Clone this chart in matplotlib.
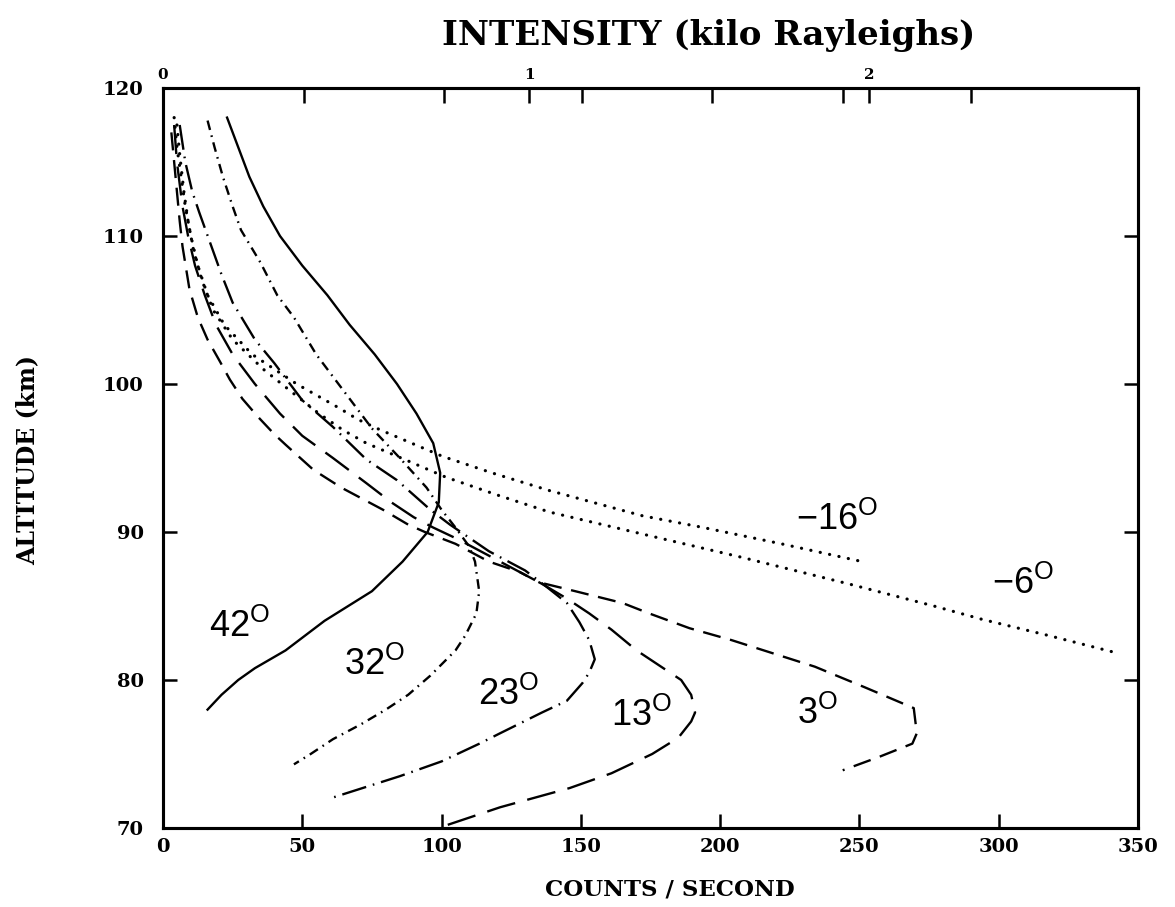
import matplotlib
matplotlib.use("Agg")
import matplotlib.pyplot as plt

# ---- data: altitude (km) vs count rate (counts / second) for each solar angle ----
alt_42 = [118, 116, 114, 112, 110, 108, 106, 104, 102, 100, 98, 96, 94, 92, 90,
          88, 86, 84, 82, 80.8, 80, 79, 78]
cnt_42 = [23, 27, 31, 36, 42, 50, 59, 67, 76, 84, 91, 97, 99.5, 99, 95,
          86, 75, 58, 44, 33, 27, 21, 16]

alt_32 = [117.8, 116, 114, 112, 110.4, 108.2, 106, 104.5, 102, 100, 98, 97, 95, 93,
          91.5, 90.3, 89, 88, 86, 84.5, 83, 82, 80.3, 79, 78, 77, 76, 75, 74.3]
cnt_32 = [16, 18.5, 21.5, 25, 28, 35, 41, 47, 55, 63, 71, 75, 85, 94.6,
          100, 105, 110, 112, 113.5, 112.5, 108.5, 105, 96, 88, 80, 71, 61, 53, 47]

alt_23 = [117.5, 115, 113, 111.6, 109.5, 107.4, 105.5, 103, 101.4, 98.9, 97.1, 94.9,
          93.5, 91.5, 90.5, 89.6, 88.7, 87.4, 86.4, 85.2, 83.9, 82.7, 81.4, 80.5,
          79.8, 78.6, 77.8, 76.4, 75.7, 74.5, 73.5, 72]
cnt_23 = [6, 8, 10.5, 13, 17, 21, 25, 33, 40, 50, 61, 73,
          84, 96, 103, 110, 117, 130, 137, 145, 149.5, 153, 155, 153,
          150.6, 145, 136, 121, 113.6, 100, 85, 60]

alt_13 = [117.5, 115, 112, 110, 108, 106, 104, 102, 100, 98, 96.5, 95, 93.3, 92,
          91, 90.3, 89.5, 88.5, 87.5, 86.5, 85.5, 84.5, 83.4, 82, 81, 80, 79,
          77.8, 77.2, 76.1, 75, 73.7, 72.7, 71.4, 70.1]
cnt_13 = [4, 5, 7, 9, 11.5, 15, 19, 25, 33, 42, 50, 61, 73, 82,
          90, 97, 106, 116, 126, 136, 145, 153, 161, 170, 178, 186, 189.6,
          191, 189.6, 185, 175.6, 161, 146, 121, 100.4]

alt_3 = [117, 115, 113, 111, 109.3, 106.4, 104.5, 103, 101.5, 100.3, 99, 97.8, 96.6,
         95.9, 94.2, 93, 91.5, 90.5, 90, 89.2, 88, 87.3, 86.6, 86, 85.2, 84.5, 83.5,
         82.7, 81.8, 80.9, 80.2, 79.5, 78.1, 76.4, 75.7, 74.8, 73.9]
cnt_3 = [3, 4, 5, 6, 7, 9.5, 12.5, 16, 20.5, 24, 28.5, 34, 40,
         44, 54, 64, 79, 88, 94, 105, 117, 128, 135, 148, 165, 174.5, 189,
         204, 219, 234, 243, 252, 269.5, 270.6, 269, 257, 244]

alt_m16 = [118, 116, 114, 112, 110, 108, 106, 104, 102, 100, 98.4, 97.6, 96.9, 95.7,
           95.1, 94, 92.8, 91.1, 90.3, 89.2, 88]
cnt_m16 = [4, 5, 6.5, 8, 10, 12.5, 16, 22, 32, 48, 63, 70, 78, 93,
           100.5, 118, 138.7, 172, 194, 222, 251]

alt_m6 = [117.5, 115.5, 113, 111, 109, 107, 105, 103, 101, 99.4, 98, 96.9, 96, 94.8,
          93.7, 92.5, 91.35, 89.8, 88.3, 86.5, 85.0, 84.1, 83.0, 81.8]
cnt_m6 = [5, 6, 7.5, 9, 11, 14, 18, 25, 36, 46.6, 56, 64.5, 73, 88,
          101.6, 120, 138.7, 173.5, 207.5, 246, 276.7, 294, 318, 343]

# curve labels: text, counts, altitude
label_text = ["42", "32", "23", "13", "3", "\u221216", "\u22126"]
label_cnt = [27.6, 76, 124, 171.7, 235, 242, 308.6]
label_alt = [83.6, 81.0, 79.0, 77.6, 77.7, 90.8, 86.5]

# bottom / left ticks
x_ticks = [0, 50, 100, 150, 200, 250, 300, 350]
y_ticks = [70, 80, 90, 100, 110, 120]
# top intensity scale (kilo Rayleighs), positions in counts
kr_tick_pos = [0, 131.5, 253.5]
kr_tick_lab = ["0", "1", "2"]
kr_minor_pos = [50.5, 100.7, 150.5, 197, 244, 290]

plt.rcParams["lines.scale_dashes"] = False
plt.rcParams["mathtext.fontset"] = "custom"
plt.rcParams["mathtext.rm"] = "Liberation Sans"
plt.rcParams["mathtext.it"] = "Liberation Sans:italic"
plt.rcParams["mathtext.bf"] = "Liberation Sans:bold"

W, H = 1175, 907
fig = plt.figure(figsize=(W / 100, H / 100), dpi=100)
L, R, T, B = 163, 1138, 88, 828
ax = fig.add_axes([L / W, 1 - B / H, (R - L) / W, (B - T) / H])

lw = 1.7
ax.plot(cnt_42, alt_42, color="black", lw=lw, ls="-")
ax.plot(cnt_32, alt_32, color="black", lw=lw, ls=(0, (7, 4, 1.2, 4)))
ax.plot(cnt_23, alt_23, color="black", lw=lw, ls=(0, (18, 5, 1.2, 5)))
ax.plot(cnt_13, alt_13, color="black", lw=lw, ls=(0, (21, 9)))
ax.plot(cnt_3, alt_3, color="black", lw=lw, ls=(0, (13, 7)))
for c, a in ((cnt_m16, alt_m16), (cnt_m6, alt_m6)):
    ax.plot(c, a, color="black", lw=2.3, ls=(0, (0.1, 6.8)),
            dash_capstyle="round", solid_capstyle="round")

for t, c, a in zip(label_text, label_cnt, label_alt):
    ax.text(c, a, t + r"$^{\mathrm{O}}$", fontsize=26, family="Liberation Sans",
            ha="center", va="center")

ax.set_xlim(0, 350)
ax.set_ylim(70, 120)
ax.set_xticks(x_ticks)
ax.set_yticks(y_ticks)
tick_font = dict(family="DejaVu Serif", weight="bold", size=14)
ax.set_xticklabels([str(v) for v in x_ticks], fontdict=tick_font)
ax.set_yticklabels([str(v) for v in y_ticks], fontdict=tick_font)
ax.tick_params(axis="both", direction="in", length=10, width=1.8, top=False, right=True)
ax.tick_params(axis="x", pad=7)
ax.tick_params(axis="y", pad=14)
for s in ax.spines.values():
    s.set_linewidth(2.2)

ax2 = ax.twiny()
ax2.set_xlim(ax.get_xlim())
ax2.set_xticks(kr_tick_pos)
ax2.set_xticklabels(kr_tick_lab, family="DejaVu Serif", weight="bold", size=11)
ax2.set_xticks(kr_minor_pos, minor=True)
ax2.tick_params(axis="x", which="both", direction="in", length=11, width=1.8, pad=4)
for s in ax2.spines.values():
    s.set_linewidth(2.2)

label_font = dict(family="DejaVu Serif", weight="bold")
fig.text(670 / W, 1 - 889 / H, "COUNTS / SECOND", size=16.5, ha="center", va="center",
         **label_font)
fig.text(27 / W, 1 - 460 / H, "ALTITUDE (km)", size=17, ha="center", va="center",
         rotation=90, **label_font)
fig.text(709 / W, 1 - 36 / H, "INTENSITY (kilo Rayleighs)", size=24.5, ha="center",
         va="center", **label_font)

fig.savefig("out.png", dpi=100)
